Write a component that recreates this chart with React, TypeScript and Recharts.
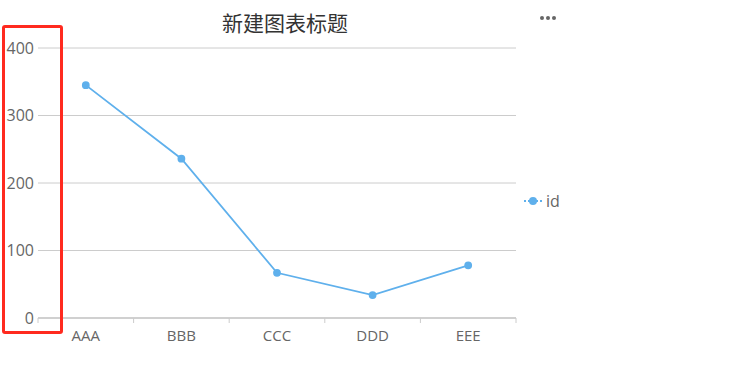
import React from "react";
import { LineChart, Line, XAxis, YAxis, CartesianGrid, Legend } from "recharts";

const categories = ["AAA", "BBB", "CCC", "DDD", "EEE"];
const idValues = [345, 236, 67, 34, 78];
const yTicks = [0, 100, 200, 300, 400];
const title = "新建图表标题";
const seriesName = "id";

const data = categories.map((c, i) => ({ name: c, id: idValues[i] }));

const LINE_COLOR = "#5FB0EC";
const FONT = "'Microsoft YaHei', 'Noto Sans CJK SC', sans-serif";
const AXIS_FONT = "'Open Sans', sans-serif";

const XTick = (props: any) => {
  const { x, y, payload, index, visibleTicksCount } = props;
  const half = payload && payload.offset ? payload.offset : 0;
  const axisY = y - 8;
  return (
    <g>
      <line x1={x - half} x2={x - half} y1={axisY} y2={axisY + 5} stroke="#ccc" />
      {index === visibleTicksCount - 1 && (
        <line x1={x + half} x2={x + half} y1={axisY} y2={axisY + 5} stroke="#ccc" />
      )}
      <text x={x} y={axisY + 23} textAnchor="middle" fill="#666" fontSize={15} fontFamily={AXIS_FONT}>
        {payload.value}
      </text>
    </g>
  );
};

const LegendContent = () => (
  <div style={{ display: "flex", alignItems: "center", fontFamily: AXIS_FONT, fontSize: 16, color: "#666" }}>
    <svg width={18} height={12} style={{ marginRight: 4 }}>
      <line x1={0} x2={18} y1={6} y2={6} stroke={LINE_COLOR} strokeWidth={2} strokeDasharray="2 2" />
      <circle cx={9} cy={6} r={4} fill={LINE_COLOR} />
    </svg>
    <span>{seriesName}</span>
  </div>
);

export default function App() {
  return (
    <div style={{ position: "absolute", left: 0, top: 0, width: 732, height: 380, background: "#fff" }}>
      <div
        style={{
          position: "absolute",
          left: 0,
          width: 570,
          top: 8,
          textAlign: "center",
          fontFamily: FONT,
          fontSize: 21,
          color: "#333",
          lineHeight: "28px",
        }}
      >
        {title}
      </div>
      <svg style={{ position: "absolute", left: 539, top: 14 }} width={20} height={8}>
        <circle cx={3} cy={4} r={2} fill="#666" />
        <circle cx={9} cy={4} r={2} fill="#666" />
        <circle cx={15} cy={4} r={2} fill="#666" />
      </svg>
      <LineChart
        width={732}
        height={380}
        data={data}
        margin={{ top: 48, right: 156, bottom: 32, left: 0 }}
      >
        <CartesianGrid vertical={false} stroke="#ccc" />
        <XAxis
          dataKey="name"
          scale="band"
          axisLine={{ stroke: "#bbb" }}
          tickLine={false}
          tick={<XTick />}
          height={30}
          interval={0}
        />
        <YAxis
          domain={[0, 400]}
          ticks={yTicks}
          axisLine={false}
          tickLine={false}
          width={38}
          tickSize={2}
          tickMargin={2}
          tick={{ fill: "#666", fontSize: 16, fontFamily: AXIS_FONT }}
        />
        <Legend
          layout="vertical"
          align="right"
          verticalAlign="middle"
          content={<LegendContent />}
          wrapperStyle={{ left: 524, top: 190, width: 60 }}
        />
        <Line
          type="linear"
          dataKey="id"
          stroke={LINE_COLOR}
          strokeWidth={1.8}
          dot={{ r: 3, fill: LINE_COLOR, stroke: LINE_COLOR }}
          activeDot={false}
          isAnimationActive={false}
        />
      </LineChart>
      <div
        style={{
          position: "absolute",
          left: 2,
          top: 25,
          width: 55,
          height: 303,
          border: "3px solid #FF2A1F",
          borderRadius: 3,
          pointerEvents: "none",
        }}
      />
    </div>
  );
}
